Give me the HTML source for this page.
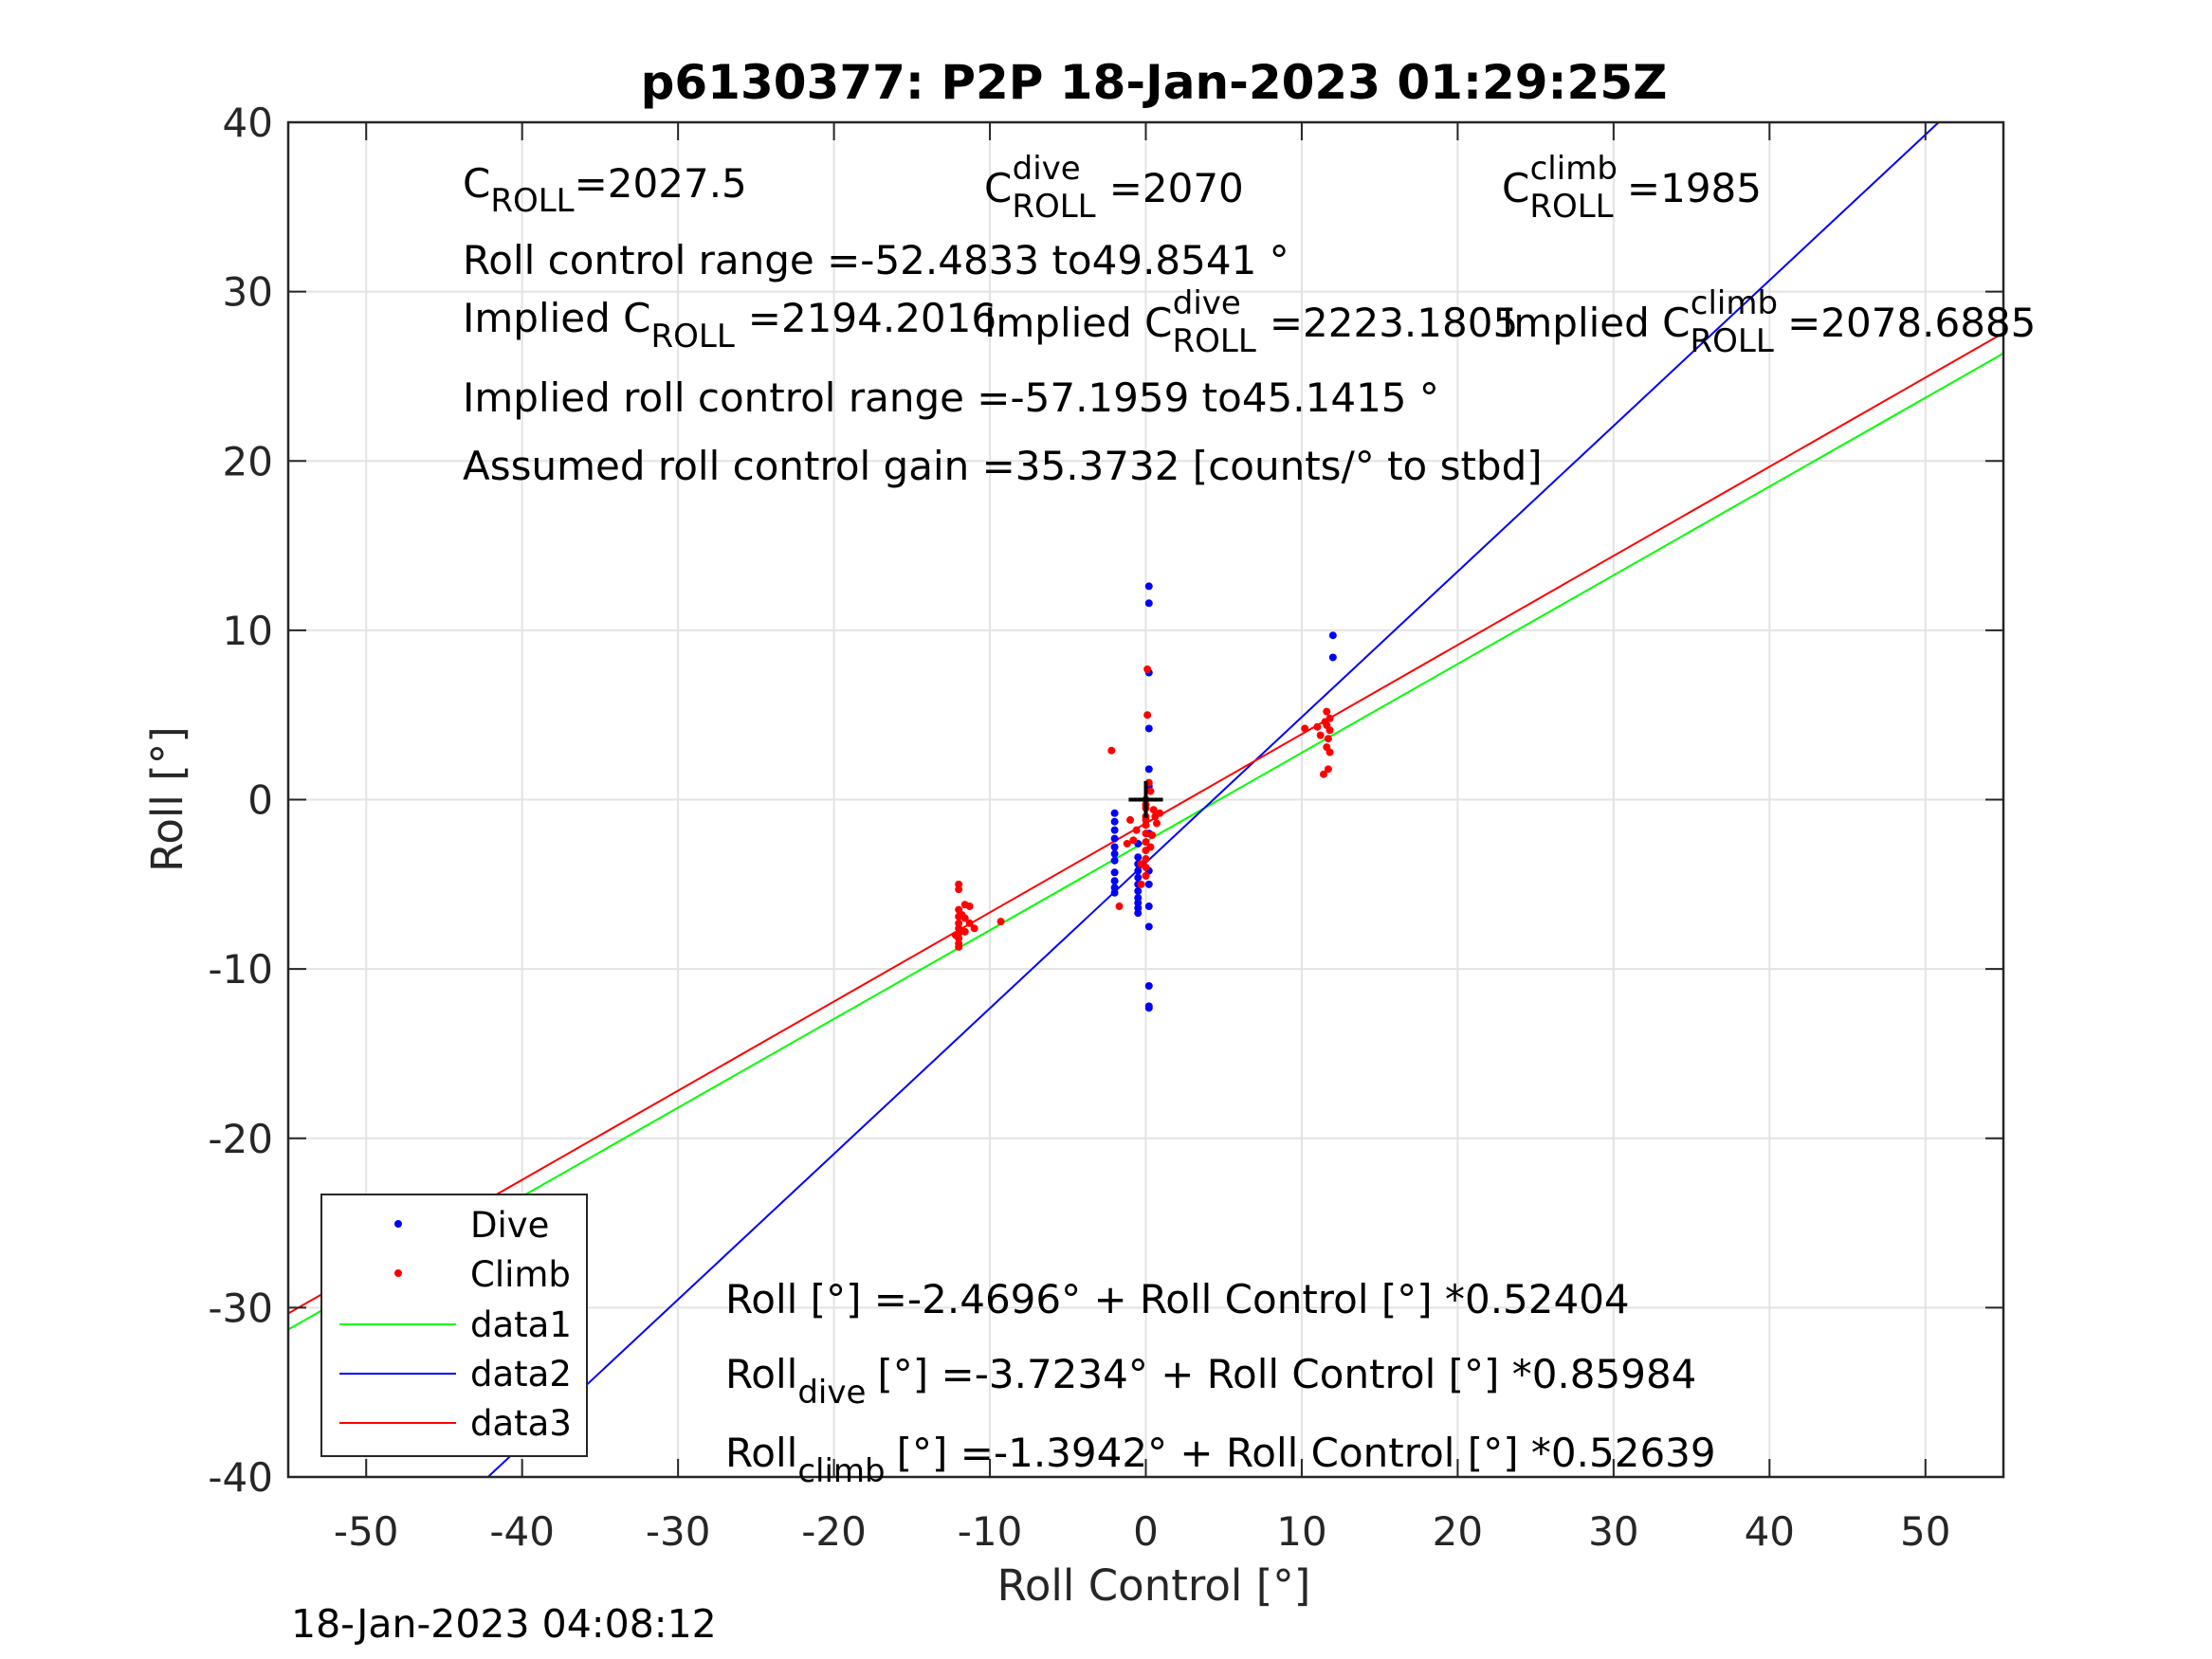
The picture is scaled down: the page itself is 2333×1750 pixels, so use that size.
<!DOCTYPE html>
<html><head><meta charset="utf-8"><style>
html,body{margin:0;padding:0;background:#fff;}
svg{display:block;font-family:"DejaVu Sans","Liberation Sans",sans-serif;}
</style></head><body>
<svg id="chart" width="2333" height="1750" viewBox="0 0 2333 1750">
<rect width="2333" height="1750" fill="#fff"/>
<g id="grid"></g>
<g id="plot"></g>
<g id="axes"></g>
<text x="1217" y="104" text-anchor="middle" font-size="50" font-weight="bold" fill="#000">p6130377: P2P 18-Jan-2023 01:29:25Z</text>
<g font-size="42" fill="#000">
<text x="488" y="208">C<tspan font-size="34" dy="15">ROLL</tspan><tspan dy="-15">=2027.5</tspan></text>
<text x="1038" y="213">C<tspan font-size="34" dy="16">ROLL</tspan><tspan dx="-88" dy="-40" font-size="34">dive</tspan><tspan dx="30" dy="24">=2070</tspan></text>
<text x="1584" y="213">C<tspan font-size="34" dy="16">ROLL</tspan><tspan dx="-88" dy="-40" font-size="34">climb</tspan><tspan dx="10" dy="24">=1985</tspan></text>
<text x="488" y="289">Roll control range =-52.4833 to49.8541 °</text>
<text x="488" y="350">Implied C<tspan font-size="34" dy="16">ROLL</tspan><tspan dx="14" dy="-16">=2194.2016</tspan></text>
<text x="1038" y="355">Implied C<tspan font-size="34" dy="16">ROLL</tspan><tspan dx="-88" dy="-40" font-size="34">dive</tspan><tspan dx="30" dy="24">=2223.1805</tspan></text>
<text x="1584" y="355">Implied C<tspan font-size="34" dy="16">ROLL</tspan><tspan dx="-88" dy="-40" font-size="34">climb</tspan><tspan dx="10" dy="24">=2078.6885</tspan></text>
<text x="488" y="434">Implied roll control range =-57.1959 to45.1415 °</text>
<text x="488" y="506">Assumed roll control gain =35.3732 [counts/° to stbd]</text>
<text x="765" y="1385">Roll [°] =-2.4696° + Roll Control [°] *0.52404</text>
<text x="765" y="1464">Roll<tspan font-size="34" dy="16">dive</tspan><tspan dx="12" dy="-16">[°] =-3.7234° + Roll Control [°] *0.85984</tspan></text>
<text x="765" y="1547">Roll<tspan font-size="34" dy="16">climb</tspan><tspan dx="12" dy="-16">[°] =-1.3942° + Roll Control [°] *0.52639</tspan></text>
</g>
<g id="legend">
<rect x="339" y="1260" width="280" height="276" fill="#fff" stroke="#262626" stroke-width="2"/>
<circle cx="420" cy="1291" r="4" fill="#0000ff"/>
<circle cx="420" cy="1343" r="4" fill="#ff0000"/>
<line x1="358" y1="1397" x2="481" y2="1397" stroke="#00ff00" stroke-width="2"/>
<line x1="358" y1="1449" x2="481" y2="1449" stroke="#0000ff" stroke-width="2"/>
<line x1="358" y1="1501" x2="481" y2="1501" stroke="#ff0000" stroke-width="2"/>
<g font-size="37" fill="#000">
<text x="496" y="1305">Dive</text>
<text x="496" y="1357">Climb</text>
<text x="496" y="1410">data1</text>
<text x="496" y="1462">data2</text>
<text x="496" y="1514">data3</text>
</g>
</g>
<text x="1217" y="1688" text-anchor="middle" font-size="45" fill="#262626">Roll Control [°]</text>
<text transform="translate(192,843) rotate(-90)" text-anchor="middle" font-size="45" fill="#262626">Roll [°]</text>
<text x="307" y="1727" font-size="41" fill="#000">18-Jan-2023 04:08:12</text>
</svg>
<script>
const xTicks=[-50,-40,-30,-20,-10,0,10,20,30,40,50];
const yTicks=[-40,-30,-20,-10,0,10,20,30,40];
const fitIntercepts=[-2.4696,-3.7234,-1.3942];
const fitSlopes=[0.52404,0.85984,0.52639];
const fitColors=["#00ff00","#0000ff","#ff0000"];
const diveX=[0.2,0.2,0.2,0.2,0.2,0.2,0.2,0.2,0.2,0.2,0.2,0.2,-2,-2,-2,-2,-2,-2,-2,-2,-2,-2,-2,-0.5,-0.5,-0.5,-0.5,-0.5,-0.5,-0.5,-0.5,-0.5,-0.5,-0.5,12,12,0.2,0.2];
const diveY=[12.6,11.6,7.5,4.2,1.8,-4.2,-5,-6.3,-7.5,-11,-12.3,-12.2,-0.8,-1.3,-1.8,-2.3,-2.8,-3.2,-3.6,-4.3,-4.8,-5.2,-5.5,-3.4,-3.8,-4.2,-4.6,-5,-5.4,-5.8,-6.1,-6.4,-6.7,-2.6,9.7,8.4,0.8,-2];
const climbX=[-12,-12,-12,-12,-12,-12,-12,-12,-12,-12,-11.6,-11.6,-11.6,-11.3,-11.3,-11,-9.3,-11.8,-12.2,0.1,0.1,0.2,0.3,0,0,0,0,0,0,0,0,0,0,0,0,0.4,0.5,0.7,0.9,-0.6,-0.8,-1,-1.2,-1.7,-2.2,-0.3,-0.3,10.2,11,11.2,11.5,11.6,11.8,11.8,11.7,11.6,11.8,11.7,11.4,11.6,0.6,0.3];
const climbY=[-5,-5.3,-6.5,-6.9,-7.3,-7.6,-7.9,-8.2,-8.5,-8.7,-6.2,-7,-7.8,-6.3,-7.3,-7.6,-7.2,-6.8,-8,7.7,5,1,0.5,0,-0.5,-1,-1.5,-2,-2.5,-3,-3.5,-4,-4.5,-0.3,-1.2,-2.1,-0.6,-1.4,-0.8,-1.8,-2.4,-1.2,-2.6,-6.3,2.9,-3.8,-5,4.2,4.3,3.8,4.6,5.2,4.8,4.1,3.6,3.1,2.8,1.8,1.5,4.4,-1,-2.8];
const X0=304,X1=2113,Y0=1558,Y1=129,XMIN=-55,XMAX=55,YMIN=-40,YMAX=40;
function sx(v){return X0+(v-XMIN)/(XMAX-XMIN)*(X1-X0);}
function sy(v){return Y0-(v-YMIN)/(YMAX-YMIN)*(Y0-Y1);}
const NS="http://www.w3.org/2000/svg";
function mk(tag,attrs,parent){const e=document.createElementNS(NS,tag);for(const k in attrs)e.setAttribute(k,attrs[k]);parent.appendChild(e);return e;}
const grid=document.getElementById('grid'),plot=document.getElementById('plot'),axes=document.getElementById('axes');
xTicks.forEach(t=>{
  const g=mk('line',{x1:sx(t),x2:sx(t),y1:Y1,y2:Y0,stroke:'#e3e3e3','stroke-width':2},grid);
  
  
  [[Y0,Y0-19],[Y1,Y1+19]].forEach(p=>{const l=mk('line',{x1:sx(t),x2:sx(t),y1:p[0],y2:p[1],stroke:'#262626','stroke-width':2},axes);
    
    });
  const tx=mk('text',{x:sx(t),y:1630,'text-anchor':'middle','font-size':42,fill:'#262626'},axes);
  tx.textContent=String(t);
  
  
});
yTicks.forEach(t=>{
  const g=mk('line',{x1:X0,x2:X1,y1:sy(t),y2:sy(t),stroke:'#e3e3e3','stroke-width':2},grid);
  
  
  [[X0,X0+19],[X1,X1-19]].forEach(p=>{const l=mk('line',{x1:p[0],x2:p[1],y1:sy(t),y2:sy(t),stroke:'#262626','stroke-width':2},axes);
    
    });
  const tx=mk('text',{x:288,y:sy(t)+15,'text-anchor':'end','font-size':42,fill:'#262626'},axes);
  tx.textContent=String(t);
  
  
});
const box=mk('rect',{x:X0,y:Y1,width:X1-X0,height:Y0-Y1,fill:'none',stroke:'#262626','stroke-width':2.5},axes);


const defs=mk('defs',{},plot);
const cp=mk('clipPath',{id:'clip'},defs);
mk('rect',{x:X0,y:Y1,width:X1-X0,height:Y0-Y1},cp);
const clipG=mk('g',{'clip-path':'url(#clip)'},plot);
const fitNames=['fit-line-data1','fit-line-data2','fit-line-data3'];
fitSlopes.forEach((m,i)=>{
  const b=fitIntercepts[i];
  const l=mk('line',{x1:sx(XMIN),y1:sy(b+m*XMIN),x2:sx(XMAX),y2:sy(b+m*XMAX),stroke:fitColors[i],'stroke-width':2},clipG);
  
  
});
diveX.forEach((x,i)=>{const c=mk('circle',{cx:sx(x),cy:sy(diveY[i]),r:4,fill:'#0000ff'},clipG);
  
  });
climbX.forEach((x,i)=>{const c=mk('circle',{cx:sx(x),cy:sy(climbY[i]),r:4,fill:'#ff0000'},clipG);
  
  });
const ph=mk('line',{x1:sx(-1.1),x2:sx(1.1),y1:sy(0),y2:sy(0),stroke:'#000','stroke-width':4},clipG);


const pv=mk('line',{x1:sx(0),x2:sx(0),y1:sy(1.1),y2:sy(-1.1),stroke:'#000','stroke-width':4},clipG);


</script>
</body></html>
